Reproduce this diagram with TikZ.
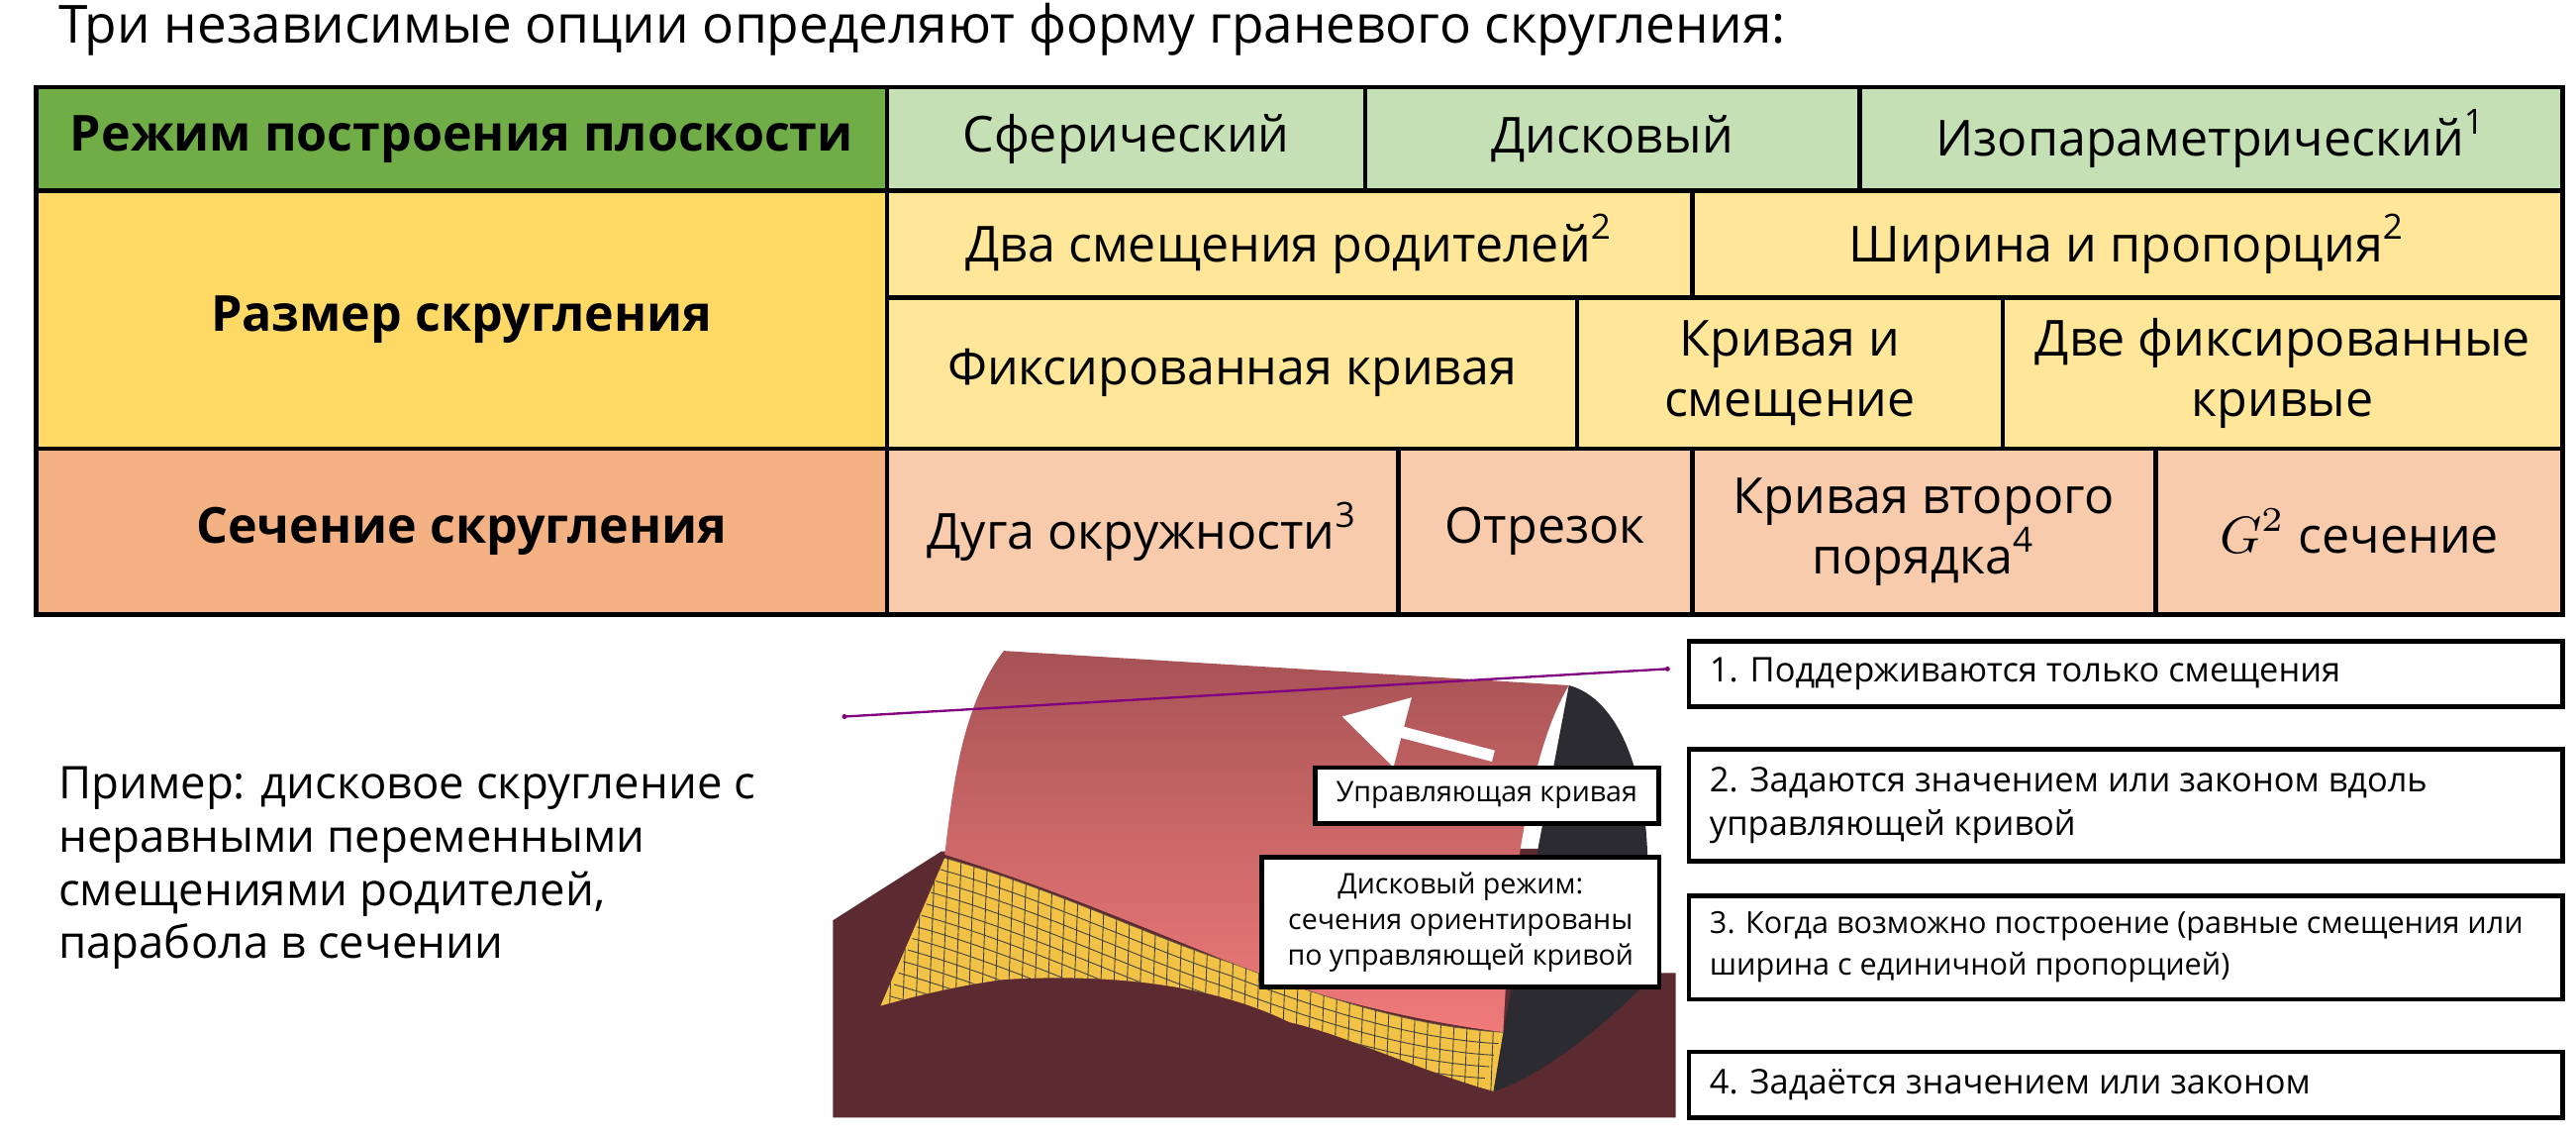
\documentclass[tikz,border=0pt]{standalone}
\usepackage{fontspec}
\setmainfont{Open Sans}
\usetikzlibrary{arrows}
\definecolor{hgreen}{HTML}{70AD47}
\definecolor{lgreen}{HTML}{C5E0B4}
\definecolor{hyellow}{HTML}{FFD966}
\definecolor{lyellow}{HTML}{FFE699}
\definecolor{horange}{HTML}{F4B183}
\definecolor{lorange}{HTML}{F8CBAD}
\definecolor{maroon}{HTML}{5C2A31}
\definecolor{pinkc}{HTML}{F07A7A}
\definecolor{darkface}{HTML}{2C2B31}
\definecolor{meshc}{HTML}{F2C246}
\tikzset{
  cell/.style={draw=black, line width=0.8pt, align=center, inner sep=0pt, font=\fontsize{8.6}{10.5}\selectfont},
  note/.style={draw=black, line width=0.8pt, inner sep=0pt, font=\fontsize{6.1}{7.6}\selectfont},
  tag/.style={draw=black, line width=0.8pt, fill=white, align=center, inner sep=0pt, font=\fontsize{4.9}{6.2}\selectfont}
}
\newcommand{\cellbox}[7]{% name, x1, y1, x2, y2, fill, text
  \draw[cell, fill=#6] (#2,#3) rectangle (#4,#5);
  \node[align=center, font=\fontsize{8.6}{10.5}\selectfont] (#1) at ({(#2+#4)/2},{(#3+#5)/2}) {#7};}
\begin{document}
\begin{tikzpicture}[x=0.1mm, y=-0.1mm]
\useasboundingbox (0,0) rectangle (1568,693);
% title
\node[anchor=west, inner sep=0pt, font=\fontsize{9.1}{11}\selectfont] (title) at (35,18) {Три независимые опции определяют форму граневого скругления:};
% table
\cellbox{mode}{22}{53}{540}{116}{hgreen}{\bfseries Режим построения плоскости}
\cellbox{sph}{540}{53}{831}{116}{lgreen}{Сферический}
\cellbox{disk}{831}{53}{1132}{116}{lgreen}{Дисковый}
\cellbox{iso}{1132}{53}{1560}{116}{lgreen}{Изопараметрический\textsuperscript{1}}
\cellbox{size}{22}{116}{540}{273}{hyellow}{\bfseries Размер скругления}
\cellbox{twooff}{540}{116}{1030}{181}{lyellow}{Два смещения родителей\textsuperscript{2}}
\cellbox{width}{1030}{116}{1560}{181}{lyellow}{Ширина и пропорция\textsuperscript{2}}
\cellbox{fixc}{540}{181}{960}{273}{lyellow}{Фиксированная кривая}
\cellbox{coff}{960}{181}{1219}{273}{lyellow}{Кривая и\\смещение}
\cellbox{twofix}{1219}{181}{1560}{273}{lyellow}{Две фиксированные\\кривые}
\cellbox{sect}{22}{273}{540}{374}{horange}{\bfseries Сечение скругления}
\cellbox{arc}{540}{273}{851}{374}{lorange}{Дуга окружности\textsuperscript{3}}
\cellbox{seg}{851}{273}{1030}{374}{lorange}{Отрезок}
\cellbox{quad}{1030}{273}{1312}{374}{lorange}{Кривая второго\\порядка\textsuperscript{4}}
\cellbox{gtwo}{1312}{273}{1560}{374}{lorange}{$G^2$ сечение}
% example text
\node[anchor=north west, inner sep=0pt, align=left, font=\fontsize{7.8}{9.2}\selectfont] (example) at (35,466)
  {Пример: дисковое скругление с\\неравными переменными\\смещениями родителей,\\парабола в сечении};
% notes
\draw[note] (1028,390) rectangle (1560,430);
\node[anchor=west, inner sep=0pt, font=\fontsize{5.9}{7.6}\selectfont] (n1) at (1040,410) {1. Поддерживаются только смещения};
\draw[note] (1028,456) rectangle (1560,524);
\node[anchor=west, inner sep=0pt, align=left, font=\fontsize{5.9}{7.6}\selectfont] (n2) at (1040,490) {2. Задаются значением или законом вдоль\\управляющей кривой};
\draw[note] (1028,545) rectangle (1560,608);
\node[anchor=west, inner sep=0pt, align=left, font=\fontsize{5.25}{7.2}\selectfont] (n3) at (1040,576) {3. Когда возможно построение (равные смещения или\\ширина с единичной пропорцией)};
\draw[note] (1028,640) rectangle (1560,680);
\node[anchor=west, inner sep=0pt, font=\fontsize{5.9}{7.6}\selectfont] (n4) at (1040,660) {4. Задаётся значением или законом};
% picture of the fillet
\fill[maroon] (507,560) -- (573,518) -- (1000,516) -- (1000,592) -- (1020,592) -- (1020,680) -- (507,680) -- cycle;
\fill[darkface] (955,417) .. controls (985,425) and (1003,470) .. (1003,530) -- (1000,600) .. controls (960,640) and (925,660) .. (909,664) -- (915,628) -- cycle;
\shade[top color=pinkc!50!maroon, bottom color=pinkc, middle color=pinkc!85!black] (611,396) -- (955,417)
  .. controls (935,450) and (920,520) .. (915,628)
  .. controls (850,620) and (780,600) .. (750,586)
  .. controls (700,566) and (640,540) .. (575,520)
  .. controls (580,480) and (585,430) .. (611,396) -- cycle;
\fill[meshc] (575,522) .. controls (640,540) and (700,570) .. (750,586)
  .. controls (800,605) and (860,625) .. (915,628) -- (909,664)
  .. controls (860,650) and (820,630) .. (785,622)
  .. controls (740,600) and (680,592) .. (611,596)
  .. controls (580,600) and (550,608) .. (536,612) -- cycle;
\begin{scope}
  \clip (575,522) .. controls (640,540) and (700,570) .. (750,586)
  .. controls (800,605) and (860,625) .. (915,628) -- (909,664)
  .. controls (860,650) and (820,630) .. (785,622)
  .. controls (740,600) and (680,592) .. (611,596)
  .. controls (580,600) and (550,608) .. (536,612) -- cycle;
  \foreach \x in {530,538,...,930}
    \draw[black!75, line width=0.15pt] (\x,500) -- (\x-8,700);
  \foreach \s in {0,7,...,98}
    \draw[black!75, line width=0.15pt, shift={(-\s*0.4,\s)}] (575,522) .. controls (640,540) and (700,570) .. (750,586)
      .. controls (800,605) and (860,625) .. (915,628);
\end{scope}
\draw[violet, line width=0.4pt] (514,436) -- (1015,407);
\fill[violet] (514,436) circle (1.5) (1015,407) circle (1.5);
\coordinate (arrowtail) at (909,460);
\coordinate (arrowtip) at (817,436);
\draw[white, line width=2pt, -triangle 60] (arrowtail) -- (arrowtip);
\node[tag, minimum width=209*0.1mm, minimum height=34*0.1mm] (guide) at (905,484) {Управляющая кривая};
\node[tag, minimum width=242*0.1mm, minimum height=79*0.1mm] (diskmode) at (889,561) {Дисковый режим:\\сечения ориентированы\\по управляющей кривой};
\end{tikzpicture}
\end{document}
